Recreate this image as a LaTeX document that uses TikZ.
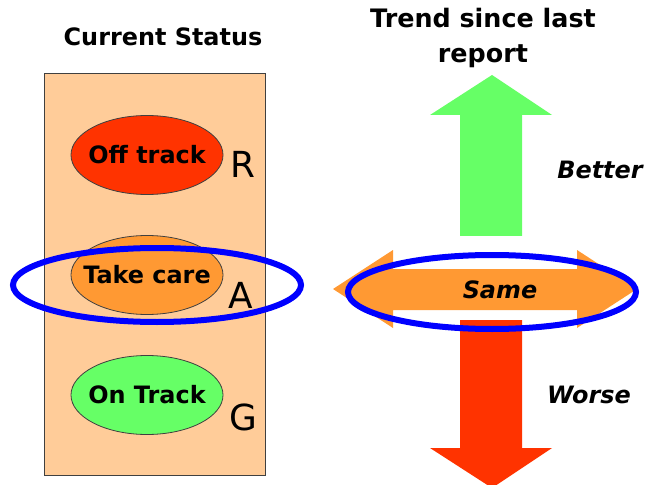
\documentclass[tikz,border=0pt]{standalone}
\usepackage{fontspec}
\setmainfont{DejaVu Sans}
\usetikzlibrary{shapes.geometric}
\definecolor{boxfill}{HTML}{FFCC99}
\definecolor{offred}{HTML}{FF3300}
\definecolor{careorange}{HTML}{FF9933}
\definecolor{ongreen}{HTML}{66FF66}
\definecolor{ringblue}{HTML}{0000FF}
\tikzset{
  status/.style={ellipse, draw=black!75, line width=0.8bp, minimum width=152bp,
    minimum height=79bp, inner xsep=-14bp, inner ysep=0pt,
    font=\fontsize{24}{26}\selectfont\bfseries},
  letter/.style={font=\fontsize{36}{40}\selectfont},
  title/.style={font=\fontsize{24}{35}\selectfont\bfseries, align=center},
  trend/.style={font=\fontsize{24}{26}\selectfont\bfseries\itshape},
  ring/.style={draw=ringblue, line width=6bp}
}
\begin{document}
\begin{tikzpicture}[x=1bp,y=-1bp]
  \useasboundingbox (0,0) rectangle (648,485);
  % current status column
  \node[title] (cur) at (163,37) {Current Status};
  \draw[fill=boxfill, draw=black!75, line width=1bp] (44,74) rectangle (265,475);
  \node[status, fill=offred] (off) at (147,155) {Off track};
  \node[status, fill=careorange] (care) at (147,275) {Take care};
  \node[status, fill=ongreen] (on) at (147,395) {On Track};
  \node[letter] (r) at (243,164) {R};
  \node[letter] (a) at (241,295) {A};
  \node[letter] (g) at (243,417) {G};
  % trend column
  \node[title, font=\fontsize{25.5}{35}\selectfont\bfseries] (trend) at (483,38)
    {Trend since last\\report};
  \fill[ongreen] (460,236) -- (460,115) -- (430,115) -- (492,75) -- (552,115)
    -- (522,115) -- (522,236) -- cycle;
  \fill[offred] (460,320) -- (460,448) -- (430,448) -- (492,488) -- (552,448)
    -- (522,448) -- (522,320) -- cycle;
  \fill[careorange] (333,289) -- (393,250) -- (393,269) -- (577,269) -- (577,250)
    -- (637,289) -- (577,328) -- (577,310) -- (393,310) -- (393,328) -- cycle;
  \node[trend] (better) at (600,170) {Better};
  \node[trend] (same) at (500,290) {Same};
  \node[trend] (worse) at (589,395) {Worse};
  % highlight rings
  \draw[ring] (157,285) ellipse [x radius=144, y radius=37];
  \draw[ring] (492,292) ellipse [x radius=144, y radius=37];
\end{tikzpicture}
\end{document}
